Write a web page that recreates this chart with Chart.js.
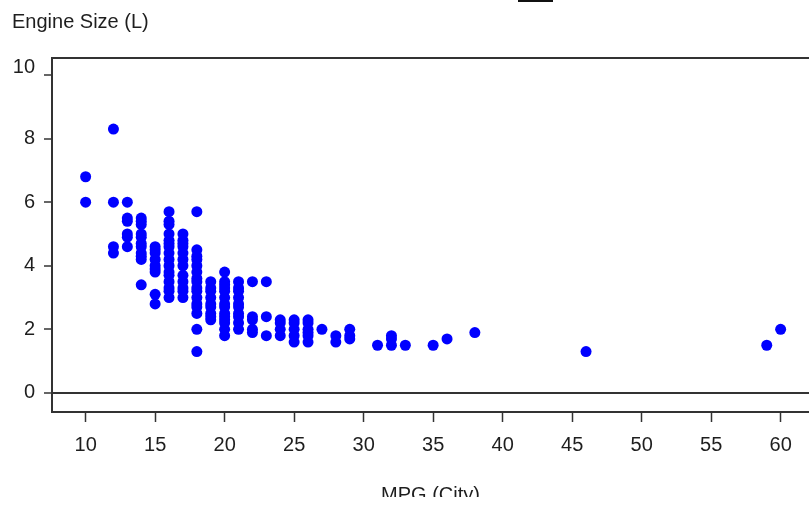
<!DOCTYPE html>
<html>
<head>
<meta charset="utf-8">
<script src="https://cdn.jsdelivr.net/npm/chart.js@4.4.0/dist/chart.umd.min.js"></script>
<style>
  html, body { margin: 0; padding: 0; background: #fff; overflow: hidden; }
  #wrap { width: 809px; height: 505px; position: relative; }
</style>
</head>
<body>
<div id="wrap"><canvas id="c" width="809" height="505"></canvas></div>
<script>
// City MPG values (x) and the engine sizes (L) observed at each one (y)
const mpgCity = [10, 12, 13, 14, 15, 16, 17, 18, 19, 20, 21, 22, 23, 24, 25, 26, 27, 28, 29, 31, 32, 33, 35, 36, 38, 46, 59, 60];
const engineSize = [
  [6.8, 6.0],
  [8.3, 6.0, 4.6, 4.4],
  [6.0, 5.5, 5.4, 5.0, 4.9, 4.6],
  [5.5, 5.4, 5.3, 5.0, 4.9, 4.7, 4.6, 4.4, 4.3, 4.2, 3.4],
  [4.6, 4.5, 4.4, 4.2, 4.0, 3.9, 3.8, 3.1, 2.8],
  [5.7, 5.4, 5.3, 5.0, 4.8, 4.7, 4.6, 4.4, 4.2, 4.0, 3.8, 3.7, 3.5, 3.3, 3.2, 3.0],
  [5.0, 4.8, 4.7, 4.6, 4.4, 4.2, 4.0, 3.7, 3.5, 3.3, 3.2, 3.0],
  [5.7, 4.5, 4.3, 4.2, 4.0, 3.8, 3.6, 3.5, 3.3, 3.2, 3.0, 2.8, 2.7, 2.5, 2.0, 1.3],
  [3.5, 3.3, 3.2, 3.0, 2.8, 2.7, 2.5, 2.4, 2.3],
  [3.8, 3.5, 3.4, 3.3, 3.2, 3.0, 2.8, 2.7, 2.5, 2.4, 2.3, 2.2, 2.0, 1.8],
  [3.5, 3.3, 3.2, 3.0, 2.8, 2.7, 2.5, 2.4, 2.2, 2.0],
  [3.5, 2.4, 2.3, 2.0, 1.9],
  [3.5, 2.4, 1.8],
  [2.3, 2.2, 2.0, 1.8],
  [2.3, 2.2, 2.0, 1.8, 1.6],
  [2.3, 2.2, 2.0, 1.9, 1.8, 1.6],
  [2.0],
  [1.8, 1.6],
  [2.0, 1.8, 1.7],
  [1.5],
  [1.8, 1.7, 1.5],
  [1.5],
  [1.5],
  [1.7],
  [1.9],
  [1.3],
  [1.5],
  [2.0]
];
const xTicks = [10, 15, 20, 25, 30, 35, 40, 45, 50, 55, 60];
const yTicks = [0, 2, 4, 6, 8, 10];
const yTitle = 'Engine Size (L)';
const xTitle = 'MPG (City)';

const points = [];
mpgCity.forEach((m, i) => engineSize[i].forEach(v => points.push({ x: m, y: v })));

const FONT = "'Liberation Sans', Arial, sans-serif";
const FS = 20;
const TXT = '#1e1e1e';
const AX = '#333';

const decor = {
  id: 'decor',
  beforeDraw(chart) {
    const s = chart.scales.y;
    const items = s.getLabelItems();
    items.forEach(it => {
      if (String(it.label) === String(yTicks[yTicks.length - 1])) it.options.translation[1] -= 8;
    });
  },
  afterDraw(chart) {
    const ctx = chart.ctx, a = chart.chartArea;
    ctx.save();
    ctx.strokeStyle = AX;
    ctx.lineWidth = 2;
    ctx.beginPath();
    ctx.moveTo(a.left - 1, a.top);
    ctx.lineTo(a.right, a.top);
    ctx.stroke();
    // clipped bottom strip as in reference
    ctx.fillStyle = '#fff';
    ctx.fillRect(0, 497, chart.width, chart.height - 497);
    // small dark bar at top edge
    ctx.fillStyle = '#111';
    ctx.fillRect(518, 0, 35, 2);
    ctx.restore();
  }
};

new Chart(document.getElementById('c'), {
  type: 'scatter',
  data: {
    datasets: [{
      data: points,
      backgroundColor: '#0000ff',
      borderColor: '#0000ff',
      pointRadius: 5.5,
      pointBorderWidth: 0,
      pointHoverRadius: 5.5
    }]
  },
  options: {
    responsive: false,
    animation: false,
    events: [],
    layout: { autoPadding: false, padding: { left: 12, top: 0, right: 0, bottom: 0 } },
    plugins: {
      legend: { display: false },
      tooltip: { enabled: false },
      title: {
        display: true,
        text: yTitle,
        align: 'start',
        color: TXT,
        font: { family: FONT, size: FS, weight: 'normal' },
        padding: { top: 10, bottom: 24 }
      }
    },
    scales: {
      x: {
        type: 'linear',
        min: 7.58,
        max: 62.04,
        afterFit(s) { s.height = 93; s.paddingLeft = 0; s.paddingRight = 0; },
        afterBuildTicks(s) { s.ticks = xTicks.map(v => ({ value: v })); },
        border: { display: true, color: AX, width: 2 },
        grid: { drawOnChartArea: false, drawTicks: true, tickLength: 10, tickColor: AX, tickWidth: 1.5 },
        ticks: { color: TXT, font: { family: FONT, size: FS }, padding: 11, maxRotation: 0 },
        title: {
          display: true, text: xTitle, color: TXT,
          font: { family: FONT, size: FS, lineHeight: 0.8 },
          padding: { top: 0, bottom: 2 }
        }
      },
      y: {
        type: 'linear',
        min: -0.6,
        max: 10.535,
        afterFit(s) { s.width = 40; s.paddingTop = 0; s.paddingBottom = 0; },
        afterBuildTicks(s) { s.ticks = yTicks.map(v => ({ value: v })); },
        border: { display: true, color: AX, width: 2 },
        grid: {
          drawOnChartArea: true, drawTicks: true, tickLength: 8,
          tickColor: AX, tickWidth: 1.5,
          color: c => (c.tick && c.tick.value === 0 ? AX : 'rgba(0,0,0,0)'),
          lineWidth: c => (c.tick && c.tick.value === 0 ? 2 : 0)
        },
        ticks: { color: TXT, font: { family: FONT, size: FS }, padding: 9 }
      }
    }
  },
  plugins: [decor]
});
</script>
</body>
</html>
